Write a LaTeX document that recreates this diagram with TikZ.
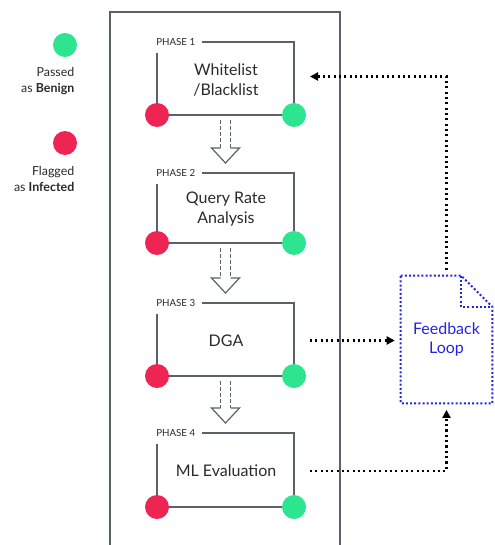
\documentclass[tikz,border=0pt]{standalone}
\usepackage{fontspec}
\setmainfont{Lato}
\usetikzlibrary{calc,arrows.meta}
\definecolor{benign}{HTML}{2CE58E}
\definecolor{infected}{HTML}{EE2452}
\definecolor{framegray}{HTML}{5B6168}
\definecolor{textgray}{HTML}{2A2A2A}
\definecolor{loopblue}{HTML}{2424E0}
\tikzset{
  dot/.style={circle,inner sep=0pt,minimum size=18pt},
  benigndot/.style={dot,fill=benign},
  infecteddot/.style={dot,fill=infected},
  phaselabel/.style={font=\fontsize{7.3}{8}\selectfont,text=textgray,inner sep=1pt,
    inner xsep=0pt,anchor=west},
  phasetext/.style={font=\fontsize{12}{15}\selectfont,text=textgray,align=center},
  phaseline/.style={draw=framegray,line width=1.1pt},
  shaft/.style={draw=framegray,line width=0.9pt,dash pattern=on 3pt off 1.5pt},
  legendtext/.style={font=\fontsize{9.3}{11.5}\selectfont,text=textgray,align=right,anchor=east},
  looptext/.style={font=\fontsize{12}{14}\selectfont,text=loopblue,align=center},
  loopline/.style={draw=loopblue,line width=1.5pt,dash pattern=on 1.5pt off 1.6pt},
  feedback/.style={-{Triangle[length=6pt,width=6pt]},line width=1.6pt,dash pattern=on 1.6pt off 2.4pt},
}

\begin{document}
\begin{tikzpicture}[x=0.75pt,y=-0.75pt]
\useasboundingbox (0,0) rectangle (494,545);

% frame round the phases
\draw[phaseline] (110,545) -- (110,12) -- (340,12) -- (340,545);

% legend
\node[benigndot] (benign) at (65,45) {};
\node[legendtext] (benigntext) at (79,81) {Passed\\as \textbf{Benign}};
\node[infecteddot] (infected) at (65,143) {};
\node[legendtext] (infectedtext) at (79,179) {Flagged\\as \textbf{Infected}};

% phases
\foreach \n/\top/\bot/\txt in {1/42/115/{Whitelist\\/Blacklist},
  2/173/243/{Query Rate\\Analysis}, 3/303/376/DGA, 4/433/507/{ML Evaluation}} {
  \node[phaselabel] (ph\n-label) at (156,\top) {PHASE \n};
  \node[phasetext] (ph\n-text) at (226,{(\top+\bot)/2+1}) {\txt};
  \draw[phaseline] ($(ph\n-label.east)+(7,0)$) -- (294,\top) -- (294,\bot);
  \draw[phaseline] (157,\top+11) -- (157,\bot) -- (294,\bot);
  \node[infecteddot] (ph\n-red) at (157,\bot) {};
  \node[benigndot] (ph\n-green) at (294,\bot) {};
}

% hollow arrows between phases
\foreach \a/\b in {1/2,2/3,3/4} {
  \coordinate (arr\a-start) at ($(ph\a-red)!0.5!(ph\a-green)+(0,5)$);
  \coordinate (arr\a-tip) at ($(arr\a-start |- ph\b-label)+(0,-10)$);
  \draw[shaft] ($(arr\a-start)+(-5,0)$) -- ($(arr\a-tip)+(-5,-15)$);
  \draw[shaft] ($(arr\a-start)+(5,0)$) -- ($(arr\a-tip)+(5,-15)$);
  \draw[phaseline,line width=0.9pt] ($(arr\a-tip)+(-5,-15)$) -- ++(-9,0)
    -- (arr\a-tip) -- ($(arr\a-tip)+(14,-15)$) -- ++(-9,0);
}

% feedback loop document
\node[looptext,minimum width=68.25pt,minimum height=95.25pt] (loop) at (446.5,339.5) {Feedback\\Loop};
\draw[loopline] (loop.north west) -- ($(loop.north east)+(-31,0)$)
  -- ($(loop.north east)+(0,31)$) -- (loop.south east) -- (loop.south west) -- cycle;
\draw[loopline] ($(loop.north east)+(-31,0)$) -- ++(0,31) -- ++(31,0);

% dotted connectors
\coordinate (wl-in) at ($(ph1-green |- ph1-text)+(16,-3)$);
\coordinate (dga-out) at ($(ph3-green |- ph3-text)+(16,0)$);
\coordinate (ml-out) at ($(ph4-green |- ph4-text)+(16,0)$);
\draw[feedback,shorten >=4.5pt] (dga-out) -- (dga-out -| loop.west);
\draw[feedback,shorten >=5pt] (ml-out) -| (loop.south);
\draw[feedback,shorten <=4.5pt] (loop.north) |- (wl-in);
\end{tikzpicture}
\end{document}
